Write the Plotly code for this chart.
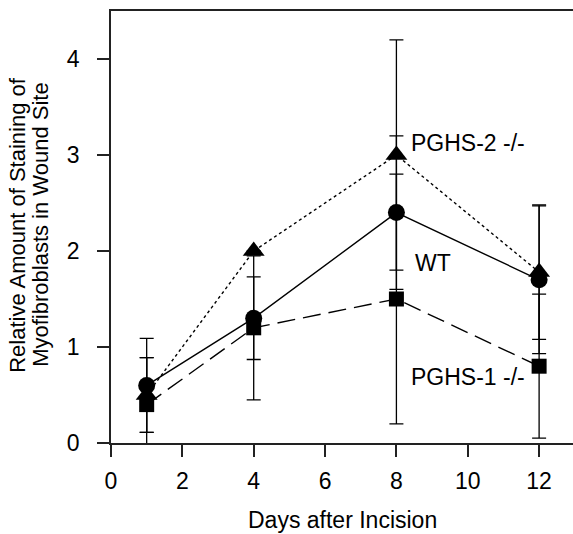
import plotly.graph_objects as go

days = [1, 4, 8, 12]

wt = [0.6, 1.3, 2.4, 1.7]
wt_err = [0.49, 0.43, 0.8, 0.77]

pghs2 = [0.5, 2.0, 3.0, 1.78]
pghs2_err = [0.39, 0.0, 1.2, 0.70]

pghs1 = [0.4, 1.2, 1.5, 0.8]
pghs1_err = [0.49, 0.75, 1.3, 0.75]

x_ticks = [0, 2, 4, 6, 8, 10, 12]
y_ticks = [0, 1, 2, 3, 4]

FONT = "Liberation Sans, Arial, sans-serif"
BLACK = "#000000"

fig = go.Figure()

def add_series(y, err, symbol, size, dash):
    fig.add_trace(go.Scatter(
        x=days, y=y, mode="lines+markers",
        line=dict(color=BLACK, width=1.4, dash=dash),
        marker=dict(symbol=symbol, size=size, color=BLACK),
        error_y=dict(type="data", array=err, visible=True, color=BLACK,
                     thickness=1.3, width=7),
        showlegend=False, cliponaxis=False,
    ))

add_series(pghs2, pghs2_err, "triangle-up", 19, "dot")
add_series(wt, wt_err, "circle", 17, "solid")
add_series(pghs1, pghs1_err, "square", 15, "18px,8px")

labels = [("PGHS-2 -/-", 8.35, 3.12), ("WT", 8.47, 1.88), ("PGHS-1 -/-", 8.35, 0.69)]
for txt, lx, ly in labels:
    fig.add_annotation(x=lx, y=ly, xref="x", yref="y", text=txt, showarrow=False,
                       xanchor="left", yanchor="middle",
                       font=dict(family=FONT, size=23, color=BLACK))

# Y axis title in two lines
plot_w = 462
for txt, px in [("Relative Amount of Staining of", 18), ("Myofibroblasts in Wound Site", 41)]:
    fig.add_annotation(x=(px - 111) / plot_w, y=0.505, xref="paper", yref="paper",
                       text=txt, showarrow=False, textangle=-90,
                       xanchor="center", yanchor="middle",
                       font=dict(family=FONT, size=22, color=BLACK))

fig.add_annotation(x=0.5, y=-(520 - 443) / 432.0, xref="paper", yref="paper",
                   text="Days after Incision", showarrow=False,
                   xanchor="center", yanchor="middle",
                   font=dict(family=FONT, size=23, color=BLACK))

axis_common = dict(showgrid=False, zeroline=False, showline=True, linecolor="#222222",
                   linewidth=1.5, ticks="outside", ticklen=12, tickwidth=1.5,
                   tickcolor="#222222", tickfont=dict(family=FONT, size=23, color=BLACK))

fig.update_layout(
    width=573, height=534,
    margin=dict(l=111, r=0, t=11, b=91),
    paper_bgcolor="white", plot_bgcolor="white",
    xaxis=dict(range=[0, 12.95], tickvals=x_ticks, mirror=True, ticklabelstandoff=5,
               **axis_common),
    yaxis=dict(range=[0, 4.5], tickvals=y_ticks, ticklabelstandoff=13, **axis_common),
)

fig.write_html("out.html")
